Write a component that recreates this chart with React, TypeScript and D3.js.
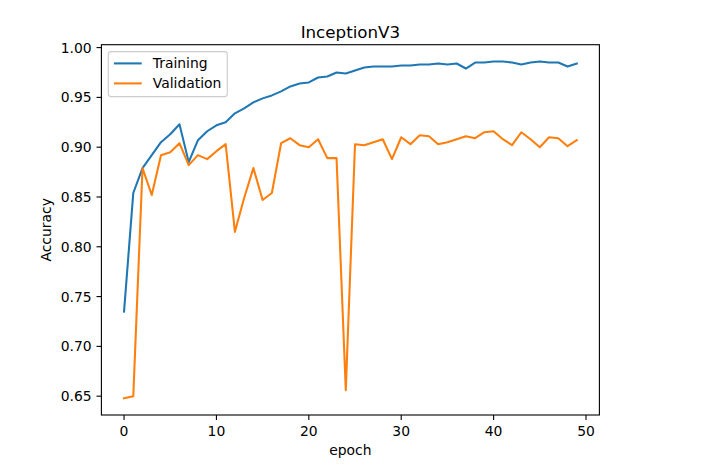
import React from "react";
import * as d3 from "d3";

const epochs: number[] = Array.from({ length: 50 }, (_, i) => i);

const training: number[] = [
  0.735, 0.854, 0.879, 0.892, 0.905, 0.913, 0.923, 0.885, 0.907, 0.916,
  0.922, 0.925, 0.934, 0.939, 0.945, 0.949, 0.952, 0.956, 0.961, 0.964,
  0.965, 0.970, 0.971, 0.975, 0.974, 0.977, 0.980, 0.981, 0.981, 0.981,
  0.982, 0.982, 0.983, 0.983, 0.984, 0.983, 0.984, 0.979, 0.985, 0.985,
  0.986, 0.986, 0.985, 0.983, 0.985, 0.986, 0.985, 0.985, 0.981, 0.984,
];

const validation: number[] = [
  0.648, 0.650, 0.879, 0.852, 0.892, 0.895, 0.904, 0.882, 0.892, 0.888,
  0.896, 0.903, 0.815, 0.849, 0.879, 0.847, 0.854, 0.904, 0.909, 0.902,
  0.900, 0.908, 0.889, 0.889, 0.656, 0.903, 0.902, 0.905, 0.908, 0.888,
  0.910, 0.903, 0.912, 0.911, 0.903, 0.905, 0.908, 0.911, 0.909, 0.915,
  0.916, 0.908, 0.902, 0.915, 0.908, 0.900, 0.910, 0.909, 0.901, 0.907,
];

const xTicks: number[] = [0, 10, 20, 30, 40, 50];
const yTicks: number[] = [0.65, 0.7, 0.75, 0.8, 0.85, 0.9, 0.95, 1.0];

const seriesNames = ["Training", "Validation"];
const seriesColors = ["#1f77b4", "#ff7f0e"];

const W = 702;
const H = 466;
const left = 101.4;
const right = 599.4;
const top = 44.7;
const bottom = 415;
const font = "'DejaVu Sans', sans-serif";
const fs = 13.9;

export default function App() {
  const allVals = [...training, ...validation];
  const [ymin, ymax] = d3.extent(allVals) as [number, number];
  const ym = (ymax - ymin) * 0.05;
  const [xmin, xmax] = d3.extent(epochs) as [number, number];
  const xm = (xmax - xmin) * 0.05;

  const x = d3.scaleLinear().domain([xmin - xm, xmax + xm]).range([left, right]);
  const y = d3.scaleLinear().domain([ymin - ym, ymax + ym]).range([bottom, top]);

  const line = d3
    .line<number>()
    .x((_, i) => x(epochs[i]))
    .y((d) => y(d));

  const series = [training, validation];

  const legX = 108.3;
  const legY = 51.6;
  const legW = 119;
  const legH = 45;

  return (
    <svg
      width={W}
      height={H}
      style={{ position: "absolute", left: 0, top: 0, display: "block", background: "#fff" }}
      fontFamily={font}
    >
      <rect x={0} y={0} width={W} height={H} fill="#fff" />
      {/* lines */}
      <g>
        {series.map((s, k) => (
          <path
            key={k}
            d={line(s) || ""}
            fill="none"
            stroke={seriesColors[k]}
            strokeWidth={2.08}
            strokeLinejoin="round"
            strokeLinecap="square"
          />
        ))}
      </g>
      {/* frame */}
      <rect
        x={left}
        y={top}
        width={right - left}
        height={bottom - top}
        fill="none"
        stroke="#000"
        strokeWidth={1.1}
      />
      {/* x ticks */}
      {xTicks.map((t) => (
        <g key={"x" + t}>
          <line x1={x(t)} x2={x(t)} y1={bottom} y2={bottom + 4.9} stroke="#000" strokeWidth={1.1} />
          <text x={x(t)} y={bottom + 9.7 + 11} textAnchor="middle" fontSize={fs} fill="#000">
            {t}
          </text>
        </g>
      ))}
      {/* y ticks */}
      {yTicks.map((t) => (
        <g key={"y" + t}>
          <line x1={left - 4.9} x2={left} y1={y(t)} y2={y(t)} stroke="#000" strokeWidth={1.1} />
          <text
            x={left - 9.7}
            y={y(t)}
            dy="0.36em"
            textAnchor="end"
            fontSize={fs}
            fill="#000"
          >
            {t.toFixed(2)}
          </text>
        </g>
      ))}
      {/* labels */}
      <text x={(left + right) / 2} y={455} textAnchor="middle" fontSize={fs} fill="#000">
        epoch
      </text>
      <text
        transform={`translate(${51},${(top + bottom) / 2}) rotate(-90)`}
        textAnchor="middle"
        fontSize={fs}
        fill="#000"
      >
        Accuracy
      </text>
      <text x={(left + right) / 2} y={37.5} textAnchor="middle" fontSize={16.7} fill="#000">
        InceptionV3
      </text>
      {/* legend */}
      <g>
        <rect
          x={legX}
          y={legY}
          width={legW}
          height={legH}
          rx={2.8}
          fill="#fff"
          fillOpacity={0.8}
          stroke="#cccccc"
          strokeWidth={1.1}
        />
        {seriesNames.map((n, k) => {
          const cy = legY + 11.8 + k * 20;
          return (
            <g key={n}>
              <line
                x1={legX + 5.6}
                x2={legX + 5.6 + 27.8}
                y1={cy}
                y2={cy}
                stroke={seriesColors[k]}
                strokeWidth={2.08}
              />
              <text x={legX + 5.6 + 27.8 + 11.1} y={cy} dy="0.36em" fontSize={fs} fill="#000">
                {n}
              </text>
            </g>
          );
        })}
      </g>
    </svg>
  );
}
